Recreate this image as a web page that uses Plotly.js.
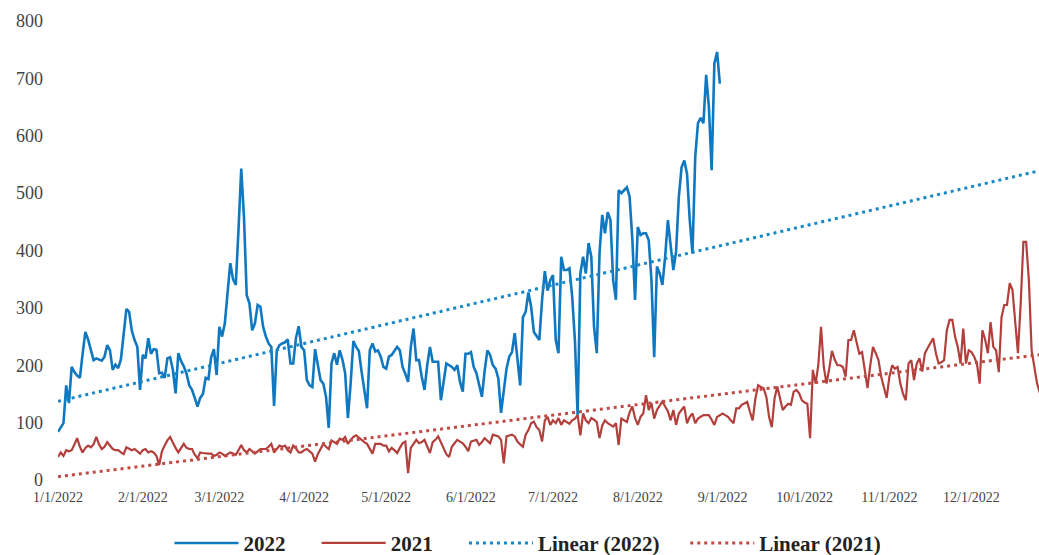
<!DOCTYPE html>
<html>
<head>
<meta charset="utf-8">
<script src="https://cdn.plot.ly/plotly-3.0.1.min.js"></script>
<style>html,body{margin:0;padding:0;background:#fff;}#chart{width:1039px;height:555px;}</style>
</head>
<body>
<div id="chart"></div>
<script>
// Daily values starting 1/1/2022
const startDate = '2022-01-01';
const seriesNames = ['2022', '2021', 'Linear (2022)', 'Linear (2021)'];
const tickLabelsY = [0, 100, 200, 300, 400, 500, 600, 700, 800];

const values2022 = [
84,92,99,165,134,197,188,182,178,220,258,245,225,209,212,210,208,215,235,226,
192,201,195,210,255,298,293,260,244,232,157,218,212,247,220,228,227,186,187,178,
212,214,192,151,221,207,198,185,165,157,143,128,143,150,178,176,214,228,183,267,
250,273,326,378,350,340,436,543,459,322,308,261,273,305,302,267,250,238,232,129,
226,235,238,240,245,203,203,247,268,232,226,174,165,162,228,203,174,168,145,91,
203,221,201,226,210,186,108,168,242,232,225,189,160,125,226,238,224,226,215,197,
194,215,218,225,232,226,197,185,171,232,264,209,209,180,157,200,232,206,206,206,
139,170,203,200,197,192,200,171,154,220,220,223,197,186,165,145,190,226,218,200,
194,177,117,160,194,215,223,256,209,165,284,293,327,302,258,250,244,314,364,330,
348,357,244,221,389,366,366,369,320,244,113,360,389,360,413,389,267,221,395,462,
430,467,453,348,314,505,500,505,510,494,420,314,441,427,430,430,418,348,214,372,
360,340,389,453,412,366,398,493,545,557,534,453,395,563,622,631,622,706,650,540,
726,746,691
];

const values2021 = [
40,48,42,52,50,52,62,73,58,48,56,60,57,62,75,62,54,58,66,60,
54,52,52,48,45,57,55,52,54,50,46,52,54,48,50,48,42,26,50,60,
69,75,65,56,48,55,63,56,54,54,44,38,48,47,46,46,46,42,44,48,
46,42,45,48,46,44,52,61,52,48,54,50,46,50,54,54,54,58,63,48,
55,60,58,60,52,48,60,55,48,48,52,54,50,46,32,45,54,63,58,54,
69,66,63,72,70,75,63,70,75,78,74,69,66,63,55,46,63,63,63,60,
60,50,56,52,47,56,64,67,12,56,64,70,64,66,70,58,47,66,70,76,
66,56,45,40,58,64,70,67,64,58,50,67,68,70,61,66,73,68,64,79,
78,76,70,29,76,77,79,76,67,62,58,79,87,99,102,92,87,67,104,110,
96,104,99,108,96,104,101,98,104,107,113,78,116,104,99,108,105,101,73,95,
104,99,96,93,99,61,107,104,101,118,128,108,96,110,116,148,122,134,107,122,
130,137,128,120,104,122,96,116,122,128,99,110,116,99,107,110,113,113,113,105,
96,110,113,116,113,110,104,99,125,125,131,133,136,119,104,142,165,162,160,145,
110,92,142,163,145,122,128,133,131,154,157,151,139,135,133,73,192,168,200,267,
197,168,194,225,210,200,200,197,180,244,244,261,240,220,223,192,160,200,232,221,
209,180,160,143,180,200,194,197,168,150,139,203,209,174,203,212,189,221,230,238,
247,221,203,205,209,261,279,279,250,232,203,264,203,226,223,215,203,168,261,245,
221,275,232,226,188,284,305,305,343,331,279,221,307,415,415,348,226,197,168,152,
145,150
];

const DAY = 86400000;
const t0 = Date.UTC(2022, 0, 1);
function dateOf(i) { return new Date(t0 + i * DAY).toISOString().slice(0, 10); }
const x2022 = values2022.map((_, i) => dateOf(i));
const x2021 = values2021.map((_, i) => dateOf(i));

function fit(vals) {
  const n = vals.length;
  let sx = 0, sy = 0, sxx = 0, sxy = 0;
  vals.forEach((v, i) => { sx += i; sy += v; sxx += i * i; sxy += i * v; });
  const b = (n * sxy - sx * sy) / (n * sxx - sx * sx);
  const a = (sy - b * sx) / n;
  return { a, b };
}
const trendDays = [];
for (let i = 0; i < 365; i++) trendDays.push(i);
const f22 = fit(values2022), f21 = fit(values2021);
const trendX = trendDays.map(dateOf);
const trend22 = trendDays.map(i => f22.a + f22.b * i);
const trend21 = trendDays.map(i => f21.a + f21.b * i);

const blue = '#0f78c0';
const blueDot = '#1688c8';
const red = '#b23f3b';
const redDot = '#c04a45';

const pad = '\u00a0\u00a0\u00a0\u00a0\u00a0';
const traces = [
  { x: x2022, y: values2022, name: seriesNames[0] + pad, type: 'scatter', mode: 'lines',
    line: { color: blue, width: 2.6 } },
  { x: x2021, y: values2021, name: seriesNames[1] + pad, type: 'scatter', mode: 'lines',
    line: { color: red, width: 2.2 } },
  { x: trendX, y: trend22, name: seriesNames[2] + pad, type: 'scatter', mode: 'lines',
    line: { color: blueDot, width: 3, dash: '3px,4px' } },
  { x: trendX, y: trend21, name: seriesNames[3], type: 'scatter', mode: 'lines',
    line: { color: redDot, width: 3, dash: '3px,4px' } }
];

const layout = {
  width: 1039, height: 555,
  margin: { l: 58, r: 0, t: 21, b: 75 },
  paper_bgcolor: '#ffffff', plot_bgcolor: '#ffffff',
  showlegend: true,
  legend: {
    orientation: 'h', x: 0.476, xanchor: 'center', y: -0.163, yanchor: 'bottom',
    font: { family: 'Liberation Serif, serif', size: 21, color: '#222' },
    itemwidth: 64, traceorder: 'normal'
  },
  xaxis: {
    type: 'date',
    range: ['2022-01-01', '2022-12-25 16:48'],
    tick0: '2022-01-01', dtick: 'M1', tickformat: '%-m/%-d/%Y',
    showgrid: false, zeroline: false, showline: false, ticks: '',
    ticklabelstandoff: 7,
    tickfont: { family: 'Liberation Serif, serif', size: 14, color: '#444' }
  },
  yaxis: {
    range: [0, 800], tickvals: tickLabelsY, ticktext: tickLabelsY.map(String),
    showgrid: false, zeroline: false, showline: false, ticks: '',
    ticklabelstandoff: 14,
    tickfont: { family: 'Liberation Serif, serif', size: 18, color: '#444' }
  }
};

Plotly.newPlot('chart', traces, layout, { displayModeBar: false, staticPlot: true }).then(() => {
  document.querySelectorAll('.legendtext').forEach(t => t.style.fontWeight = 'bold');
  const lg = document.querySelector('g.legend');
  if (lg) {
    const tr = lg.getAttribute('transform') || '';
    const m = tr.match(/translate\(\s*([-\d.]+)[ ,]+([-\d.]+)\s*\)/);
    if (m) lg.setAttribute('transform', 'translate(' + m[1] + ',' + (parseFloat(m[2]) + 9) + ')');
  }
});
</script>
</body>
</html>
